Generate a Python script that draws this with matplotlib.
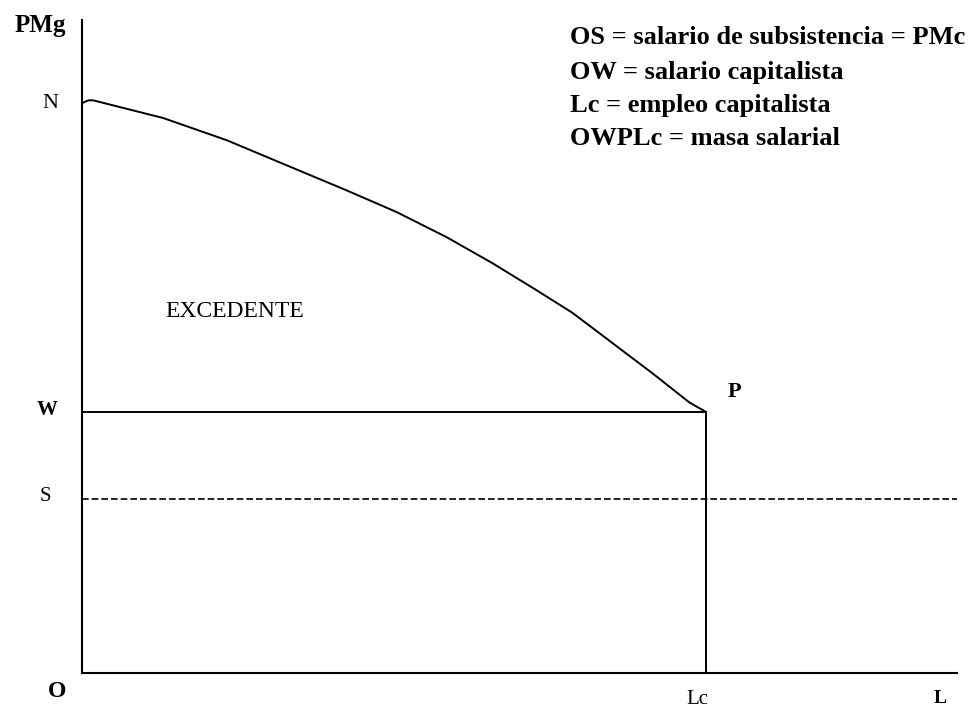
import matplotlib
matplotlib.use("Agg")
import matplotlib.pyplot as plt

# Data (economic units: L on x, PMg on y)
curve_x = [0.00, 0.10, 0.18, 1.30, 2.32, 3.17, 4.24, 5.04, 5.84, 6.58, 7.28, 7.86, 8.50, 9.14, 9.73, 10.00]
curve_y = [10.00, 10.05, 10.05, 9.74, 9.35, 8.96, 8.47, 8.09, 7.65, 7.19, 6.72, 6.32, 5.79, 5.26, 4.75, 4.58]
N_val = 10.0
W_val = 4.58
S_val = 3.05
Lc_val = 10.0
L_max = 14.02
Y_max = 11.46

legend_lines = [
    "OS = salario de subsistencia = PMc",
    "OW = salario capitalista",
    "Lc = empleo capitalista",
    "OWPLc = masa salarial",
]

plt.rcParams['font.family'] = ['Liberation Serif', 'DejaVu Serif']

W_px, H_px = 975, 711
fig = plt.figure(figsize=(W_px / 100, H_px / 100), dpi=100)
ax = fig.add_axes([82 / W_px, 38 / H_px, 875 / W_px, 653 / H_px])
ax.set_xlim(0, L_max)
ax.set_ylim(0, Y_max)
for s in ['top', 'right']:
    ax.spines[s].set_visible(False)
for s in ['left', 'bottom']:
    ax.spines[s].set_linewidth(1.5)
ax.set_xticks([])
ax.set_yticks([])

lw = 1.4
ax.plot(curve_x, curve_y, color='black', lw=lw, solid_joinstyle='round')
ax.plot([0, Lc_val], [W_val, W_val], color='black', lw=lw)
ax.plot([Lc_val, Lc_val], [0, W_val], color='black', lw=lw)
ax.plot([0, L_max], [S_val, S_val], color='black', lw=1.2, linestyle=(0, (4, 1.8)))

kw = dict(ha='center', va='center', color='black', clip_on=False)
ax.text(-0.67, 11.37, "PMg", fontsize=18, fontweight='bold', **kw)
ax.text(-0.51, N_val, "N", fontsize=16, **kw)
ax.text(-0.56, W_val + 0.03, "W", fontsize=15, fontweight='bold', **kw)
ax.text(-0.58, S_val + 0.04, "S", fontsize=15, **kw)
ax.text(-0.40, -0.33, "O", fontsize=17, fontweight='bold', **kw)
ax.text(9.86, -0.47, "Lc", fontsize=15, **kw)
ax.text(13.75, -0.45, "L", fontsize=14, fontweight='bold', **kw)
ax.text(10.46, W_val + 0.35, "P", fontsize=16, fontweight='bold', **kw)
ax.text(2.45, 6.35, "EXCEDENTE", fontsize=17, **kw)

leg_x = (570 - 82) / 62.4
leg_ys = [(673 - yy) / 57 for yy in (37, 72, 105, 138)]
for txt, yy in zip(legend_lines, leg_ys):
    ax.text(leg_x, yy, txt, fontsize=19, fontweight='bold', ha='left', va='center', clip_on=False)

fig.savefig("out.png", dpi=100, facecolor='white')
